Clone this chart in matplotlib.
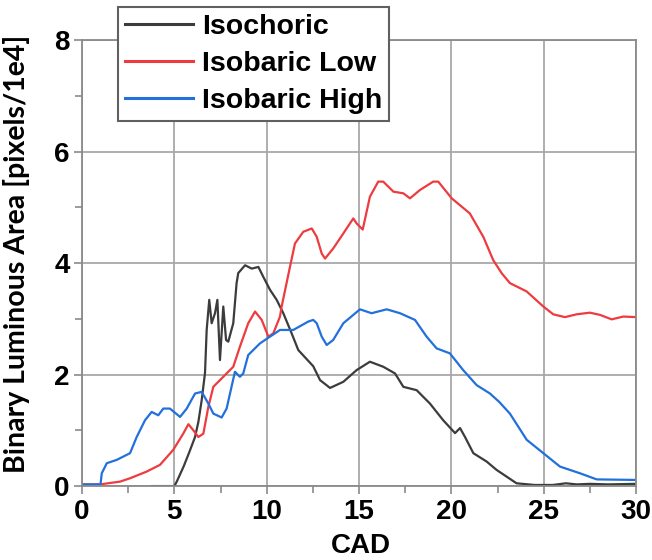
import matplotlib
matplotlib.use('Agg')
import matplotlib.pyplot as plt
from matplotlib.ticker import MultipleLocator

plt.rcParams['font.family'] = ['Liberation Sans', 'DejaVu Sans']
plt.rcParams['font.weight'] = 'bold'

# Isochoric curve (CAD, area)
iso_x = [3.8, 5.0, 5.13, 5.5, 5.8, 6.12, 6.3, 6.48, 6.66, 6.75, 6.89, 7.02, 7.2, 7.33, 7.47, 7.65,
         7.8, 7.92, 8.19, 8.37, 8.46, 8.83, 9.19, 9.55, 9.82, 10.18, 10.54, 10.9, 11.35,
         11.71, 12.1, 12.52, 12.89, 13.43, 14.15, 14.87, 15.59, 16.31, 16.95, 17.4, 18.12,
         18.84, 19.56, 20.2, 20.47, 20.74, 21.19, 21.91, 22.45, 22.99, 23.53, 24.5, 25.5,
         26.2, 26.8, 27.5, 28.5, 30.0]
iso_y = [0.0, 0.0, 0.08, 0.35, 0.6, 0.88, 1.15, 1.54, 2.03, 2.8, 3.34, 2.92, 3.1, 3.34, 2.26, 3.22,
         2.62, 2.59, 2.92, 3.64, 3.82, 3.96, 3.9, 3.93, 3.75, 3.52, 3.34, 3.1, 2.74,
         2.44, 2.3, 2.15, 1.9, 1.76, 1.87, 2.08, 2.23, 2.14, 2.02, 1.78, 1.72,
         1.48, 1.18, 0.95, 1.04, 0.88, 0.59, 0.44, 0.29, 0.17, 0.05, 0.02, 0.02,
         0.05, 0.03, 0.04, 0.03, 0.04]

# Isobaric low
low_x = [0.0, 0.97, 2.06, 2.6, 3.5, 4.22, 4.94, 5.48, 5.76, 6.03, 6.3, 6.57, 6.84, 7.11,
         7.65, 8.19, 8.55, 9.0, 9.37, 9.73, 10.09, 10.36, 10.72, 10.81, 11.26, 11.53,
         11.98, 12.44, 12.71, 12.98, 13.16, 13.6, 14.15, 14.69, 14.87, 15.2, 15.59, 16.04,
         16.31, 16.86, 17.4, 17.76, 18.3, 19.02, 19.29, 20.02, 21.0, 21.73, 22.27, 22.72,
         23.17, 24.08, 24.98, 25.52, 26.15, 26.78, 27.5, 28.05, 28.68, 29.31, 30.0]
low_y = [0.03, 0.03, 0.08, 0.14, 0.26, 0.38, 0.65, 0.94, 1.11, 1.0, 0.88, 0.94, 1.42, 1.78,
         1.96, 2.14, 2.5, 2.92, 3.13, 2.98, 2.68, 2.74, 3.04, 3.22, 3.93, 4.35,
         4.56, 4.62, 4.47, 4.17, 4.08, 4.26, 4.53, 4.8, 4.71, 4.6, 5.19, 5.46,
         5.46, 5.28, 5.25, 5.16, 5.31, 5.46, 5.46, 5.16, 4.89, 4.47, 4.05, 3.82,
         3.64, 3.49, 3.22, 3.08, 3.03, 3.08, 3.11, 3.07, 2.99, 3.04, 3.03]

# Isobaric high
high_x = [0.0, 1.0, 1.07, 1.34, 1.88, 2.6, 2.96, 3.41, 3.77, 4.13, 4.4, 4.76, 5.31, 5.67,
          6.12, 6.48, 6.84, 7.11, 7.56, 7.83, 8.28, 8.55, 8.73, 9.0, 9.64, 10.18, 10.72,
          11.44, 12.25, 12.52, 12.71, 12.98, 13.25, 13.6, 14.15, 15.05, 15.68, 16.5, 17.22,
          18.03, 18.66, 19.2, 19.92, 20.64, 21.37, 22.09, 22.59, 23.17, 24.08, 24.98, 25.88,
          26.96, 27.87, 30.0]
high_y = [0.03, 0.03, 0.23, 0.41, 0.47, 0.59, 0.88, 1.18, 1.33, 1.27, 1.39, 1.39, 1.24, 1.39,
          1.66, 1.69, 1.48, 1.3, 1.23, 1.39, 2.05, 1.96, 2.02, 2.35, 2.56, 2.68, 2.8,
          2.8, 2.95, 2.98, 2.92, 2.68, 2.53, 2.62, 2.92, 3.17, 3.1, 3.17, 3.1,
          2.98, 2.68, 2.47, 2.38, 2.08, 1.81, 1.66, 1.51, 1.3, 0.83, 0.59, 0.35,
          0.23, 0.12, 0.11]

fig = plt.figure(figsize=(6.52, 5.6), dpi=100)
ax = fig.add_axes([0.1258, 0.132, 0.8497, 0.7966])

ax.plot(iso_x, iso_y, color='#3c3c3c', lw=1.6, label='Isochoric')
ax.plot(low_x, low_y, color='#ee3b3f', lw=1.6, label='Isobaric Low')
ax.plot(high_x, high_y, color='#2170dc', lw=1.6, label='Isobaric High')

ax.set_xlim(0, 30)
ax.set_ylim(0, 8)
ax.xaxis.set_major_locator(MultipleLocator(5))
ax.xaxis.set_minor_locator(MultipleLocator(2.5))
ax.yaxis.set_major_locator(MultipleLocator(2))
ax.yaxis.set_minor_locator(MultipleLocator(1))
ax.grid(True, which='major', color='#a8a8a8', lw=1.3)
for s in ax.spines.values():
    s.set_color('#8a8a8a')
    s.set_linewidth(1.3)
ax.tick_params(which='both', direction='out', color='#8a8a8a', width=1.2)
ax.tick_params(which='major', length=6, labelsize=20, pad=3)
ax.tick_params(which='minor', length=5)
for lab in ax.get_xticklabels() + ax.get_yticklabels():
    lab.set_fontweight('bold')

ax.set_xlabel('CAD', fontsize=20, fontweight='bold')
ax.xaxis.set_label_coords(0.503, -0.105)
ax.set_ylabel('Binary Luminous Area [pixels/1e4]', fontsize=20.5, fontweight='bold',
              family=['Lato', 'DejaVu Sans'])
ax.yaxis.set_label_coords(-0.094, 0.52)

leg = fig.legend(loc='upper left', bbox_to_anchor=(0.181, 0.9875), fontsize=20.5,
                 handlelength=2.4, labelspacing=0.38, borderpad=0.25, handletextpad=0.3,
                 borderaxespad=0, fancybox=False, framealpha=1)
leg.get_frame().set_edgecolor('#606060')
leg.get_frame().set_linewidth(1.5)
for t in leg.get_texts():
    t.set_fontweight('bold')
for l in leg.get_lines():
    l.set_linewidth(2.2)

fig.savefig('out.png', dpi=100)
